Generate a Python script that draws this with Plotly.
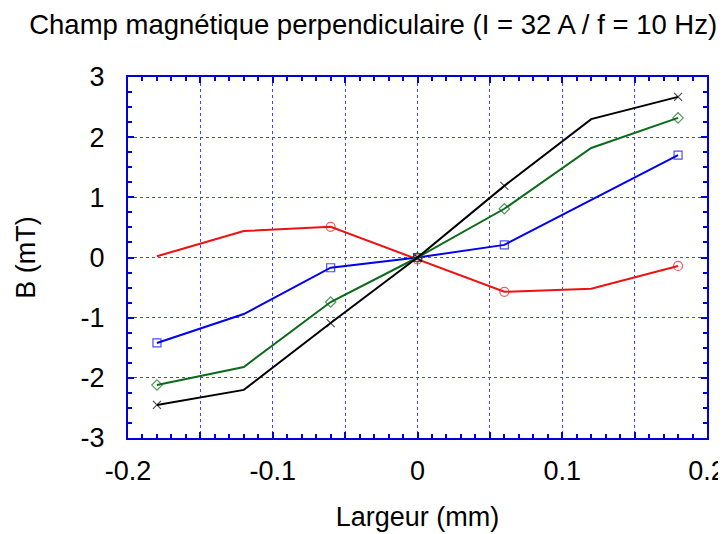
import plotly.graph_objects as go

x_vals = [-0.18, -0.12, -0.06, 0.0, 0.06, 0.12, 0.18]
black_vals = [-2.45, -2.20, -1.09, 0.0, 1.19, 2.30, 2.67]
green_vals = [-2.12, -1.82, -0.74, 0.0, 0.81, 1.82, 2.32]
blue_vals = [-1.42, -0.94, -0.17, 0.0, 0.21, 0.96, 1.70]
red_vals = [0.02, 0.44, 0.51, -0.03, -0.57, -0.52, -0.14]

marker_on = [1, 0, 1, 1, 1, 0, 1]
marker_on_red = [0, 0, 1, 1, 1, 0, 1]

x_ticks = [-0.2, -0.15, -0.1, -0.05, 0, 0.05, 0.1, 0.15, 0.2]
x_ticktext = ["-0.2", "", "-0.1", "", "0", "", "0.1", "", "0.2"]
y_ticks = [-3, -2, -1, 0, 1, 2, 3]
y_ticktext = ["-3", "-2", "-1", "0", "1", "2", "3"]

series = [
    (red_vals, "#ee1111", "circle-open", marker_on_red, 9),
    (blue_vals, "#0000ee", "square-open", marker_on, 8),
    (green_vals, "#0b6b1a", "diamond-open", marker_on, 8),
    (black_vals, "#000000", "x-thin-open", marker_on, 8),
]

FONT = "Liberation Sans, Arial"

fig = go.Figure()
for vals, col, sym, mon, ms in series:
    fig.add_trace(go.Scatter(
        x=x_vals, y=vals, mode="lines+markers",
        line=dict(color=col, width=2),
        marker=dict(symbol=sym, size=[ms * m for m in mon], color=col,
                    line=dict(color=col, width=1.2)),
        showlegend=False,
    ))

axis_common = dict(
    showline=True, linecolor="#0000dd", linewidth=2, mirror="allticks",
    ticks="inside", ticklen=6, tickcolor="#0000dd", tickwidth=1.5,
    showgrid=True, gridcolor="#4444ff", griddash="dot", gridwidth=1.2,
    zeroline=False, automargin=False,
    tickfont=dict(family=FONT, size=27, color="#000"),
)

fig.update_xaxes(
    range=[-0.2, 0.2], tickvals=x_ticks, ticktext=x_ticktext,
    minor=dict(dtick=0.01, ticks="inside", ticklen=4, tickcolor="#0000dd", showgrid=False),
    title=dict(text="Largeur (mm)", font=dict(family=FONT, size=27, color="#000"), standoff=22),
    ticklabelstandoff=8,
    **axis_common,
)
fig.update_yaxes(
    range=[-3, 3], tickvals=y_ticks, ticktext=y_ticktext,
    minor=dict(dtick=0.25, ticks="inside", ticklen=4, tickcolor="#0000dd", showgrid=False),
    title=dict(text="B (mT)", font=dict(family=FONT, size=27, color="#000"), standoff=37),
    ticklabelstandoff=16,
    **axis_common,
)

fig.update_layout(
    width=726, height=534,
    margin=dict(l=120, r=27, t=69, b=104),
    paper_bgcolor="white", plot_bgcolor="white",
    title=dict(text="Champ magnétique perpendiculaire (I = 32 A / f = 10 Hz)",
               font=dict(family=FONT, size=27.5, color="#000"),
               x=0.503, xanchor="center", y=0.970, yanchor="middle", xref="container", yref="container"),
)

fig.write_html("out.html")
